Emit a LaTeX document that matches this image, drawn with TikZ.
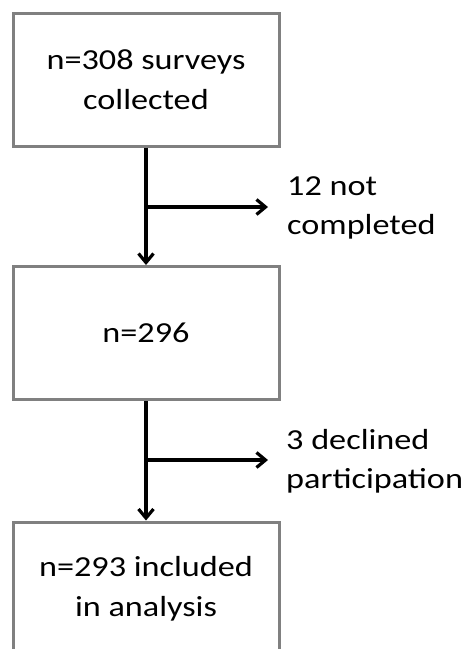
\documentclass[tikz,border=0pt]{standalone}
\usepackage{fontspec}
\setmainfont{Carlito}[FakeStretch=1.18]
\usetikzlibrary{arrows.meta}
\begin{document}
\begin{tikzpicture}[x=1pt,y=-1pt,
  box/.style={draw=black!50, line width=3pt, minimum width=266pt, minimum height=133pt, inner sep=0pt, align=center, font=\fontsize{29}{40}\selectfont},
  lbl/.style={anchor=west, inner sep=0pt, align=left, font=\fontsize{29}{39}\selectfont},
  flow/.style={line width=3.2pt, -{Straight Barb[length=9pt,width=15pt]}}]
\useasboundingbox (0,0) rectangle (469,649);
\node[box] (b1) at (146,79.5) {n=308 surveys\\collected};
\node[box] (b2) at (146,333) {n=296};
\node[box] (b3) at (146,588.5) {n=293 included\\in analysis};
\node[lbl] (t1) at (287,207.5) {12 not\\completed};
\node[lbl] (t2) at (286,461) {3 declined\\participation};
\coordinate (j1) at (146,207);
\coordinate (e1) at (268,207);
\coordinate (j2) at (146,460);
\coordinate (e2) at (268,460);
\draw[flow] (b1.south) -- (b2.north);
\draw[flow] (b2.south) -- (b3.north);
\draw[flow] (j1) -- (e1);
\draw[flow] (j2) -- (e2);
\end{tikzpicture}
\end{document}
